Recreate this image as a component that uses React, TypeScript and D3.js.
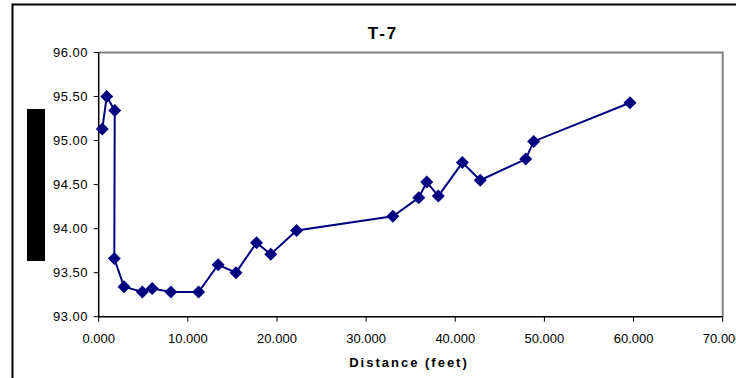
import React from "react";
import * as d3 from "d3";

// Survey profile T-7: distance along transect vs. elevation
const distance = [0.4, 0.9, 1.8, 1.75, 2.84, 4.9, 6.0, 8.1, 11.2, 13.4, 15.4, 17.7, 19.3, 22.2, 33.0, 35.9, 36.8, 38.1, 40.8, 42.8, 47.9, 48.8, 59.6];
const elevation = [95.13, 95.5, 95.34, 93.66, 93.34, 93.28, 93.32, 93.28, 93.28, 93.59, 93.5, 93.84, 93.71, 93.98, 94.14, 94.35, 94.53, 94.37, 94.75, 94.55, 94.79, 94.99, 95.43];
const xTicks = [0, 10, 20, 30, 40, 50, 60, 70];
const yTicks = [93, 93.5, 94, 94.5, 95, 95.5, 96];

const W = 736;
const H = 378;
const plot = { left: 98.7, right: 722.7, top: 52.5, bottom: 316.7 };
const NAVY = "#000080";
const FONT = "'Liberation Sans', Arial, sans-serif";

export default function App() {
  const x = d3.scaleLinear().domain([0, 70]).range([plot.left, plot.right]);
  const y = d3.scaleLinear().domain([93, 96]).range([plot.bottom, plot.top]);
  const pts = distance.map((d, i) => [x(d), y(elevation[i])] as [number, number]);
  const line = d3.line()(pts) ?? "";
  const diamond = "M0,-6.5L6.5,0L0,6.5L-6.5,0Z";

  return (
    <svg
      width={W}
      height={H}
      style={{ position: "absolute", left: 0, top: 0, background: "#fff" }}
      fontFamily={FONT}
    >
      {/* outer chart frame */}
      <path d={`M12.5,${H}V4.5H${W}`} fill="none" stroke="#000" strokeWidth={2} />
      <rect x={27} y={109} width={18} height={152} fill="#000" />

      <text x={383} y={39} textAnchor="middle" fontSize={17} fontWeight="bold" letterSpacing={2}>
        T-7
      </text>

      {/* plot area frame */}
      <path
        d={`M${plot.left},${plot.top}H${plot.right}V${plot.bottom}`}
        fill="none"
        stroke="#808080"
        strokeWidth={2}
      />
      <path
        d={`M${plot.left},${plot.top}V${plot.bottom}H${plot.right}`}
        fill="none"
        stroke="#000"
        strokeWidth={1.5}
      />

      {yTicks.map((t) => (
        <g key={`y${t}`}>
          <line x1={plot.left - 5} x2={plot.left} y1={y(t)} y2={y(t)} stroke="#000" />
          <text x={88} y={y(t) + 4.5} textAnchor="end" fontSize={13} letterSpacing={0.5}>
            {t.toFixed(2)}
          </text>
        </g>
      ))}
      {xTicks.map((t) => (
        <g key={`x${t}`}>
          <line x1={x(t)} x2={x(t)} y1={plot.bottom} y2={plot.bottom + 5} stroke="#000" />
          <text x={x(t)} y={343} textAnchor="middle" fontSize={13}>
            {t.toFixed(3)}
          </text>
        </g>
      ))}

      <text x={409} y={367} textAnchor="middle" fontSize={13} fontWeight="bold" letterSpacing={2}>
        Distance (feet)
      </text>

      <path d={line} fill="none" stroke={NAVY} strokeWidth={2} />
      {pts.map(([px, py], i) => (
        <path key={i} d={diamond} transform={`translate(${px},${py})`} fill={NAVY} />
      ))}
    </svg>
  );
}
